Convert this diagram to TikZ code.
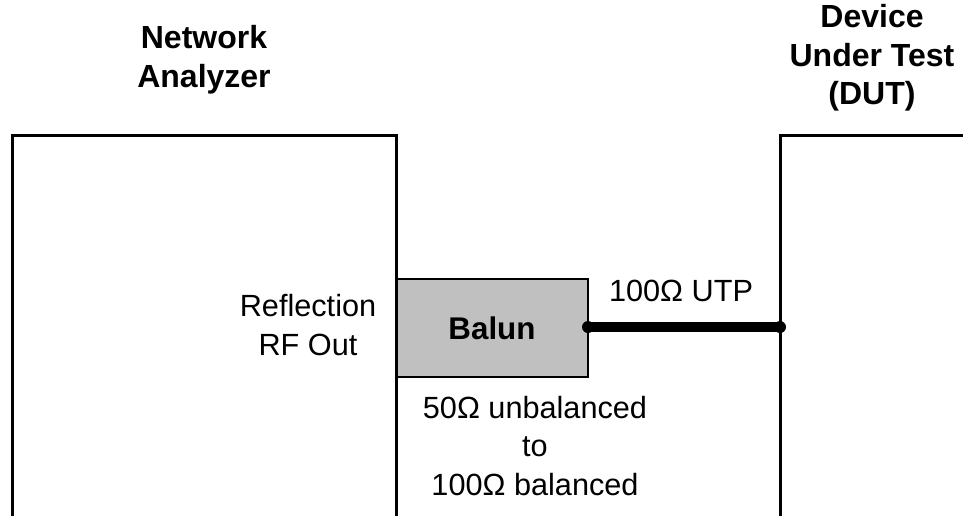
\documentclass[tikz,border=0pt]{standalone}
\usepackage{fontspec}
\setmainfont{Liberation Sans}
\begin{document}
\begin{tikzpicture}[x=0.75pt,y=-0.75pt,
  frame/.style={line width=2.25pt,line cap=rect},
  balunbox/.style={draw,line width=1.5pt,fill={rgb,255:red,192;green,192;blue,192},minimum width=191*0.75pt,minimum height=98*0.75pt,inner sep=0pt,font=\fontsize{23.5}{30}\selectfont\bfseries},
  title/.style={align=center,font=\fontsize{24}{29}\selectfont\bfseries},
  lbl/.style={align=center,font=\fontsize{23}{29}\selectfont},
  utp/.style={line width=7.5pt},
  dot/.style={circle,fill,inner sep=0pt,minimum size=12*0.75pt}]
\useasboundingbox (0,0) rectangle (963,515);
\fill[white] (0,0) rectangle (963,515);

% network analyzer frame (open at the bottom)
\draw[frame] (12,520) -- (12,135) -- (396,135) -- (396,520);
% device under test frame (open at bottom and right)
\draw[frame] (780,520) -- (780,135) -- (970,135);

% balun
\node[balunbox] (balun) at (492,328) {Balun};

% cable ends
\node[dot] (c1) at (588,327) {};
\node[dot] (c2) at (780,327) {};
\draw[utp] (c1.center) -- (c2.center);

% titles
\node[title] (na) at (204,60) {Network\\Analyzer};
\node[title] (dut) at (872,58) {Device\\Under Test\\(DUT)};

% labels
\node[lbl] (rf) at (308,325) {Reflection\\RF Out};
\node[lbl] (utplbl) at (681,291) {100Ω UTP};
\node[lbl] (conv) at (535,446) {50Ω unbalanced\\to\\100Ω balanced};
\end{tikzpicture}
\end{document}
